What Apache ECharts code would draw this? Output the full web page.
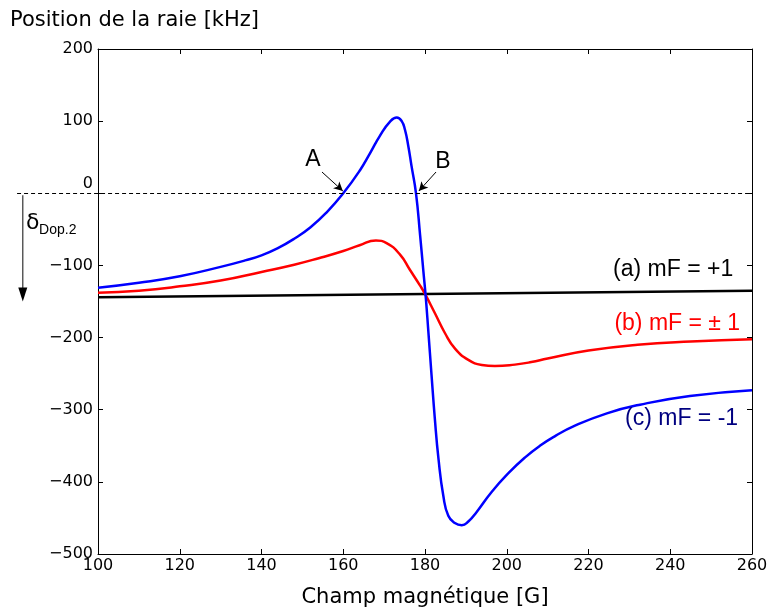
<!DOCTYPE html>
<html><head><meta charset="utf-8">
<script src="https://cdn.jsdelivr.net/npm/echarts@6/dist/echarts.min.js"></script>
<style>html,body{margin:0;padding:0;background:#fff}#c{width:772px;height:607px}</style>
</head><body><div id="c"></div>
<script>
// Field (G) and line position (kHz)
const fieldA = [100, 260];
const shiftA = [-144, -135];

const fieldB = [100, 110, 120, 130, 140, 148, 154, 160, 164, 168, 170.6, 173.9, 176.3, 178.8, 180, 182.4, 184.9, 187.3, 190.6, 193.9, 197.1, 202, 206, 210, 220, 232, 245, 260];
const shiftB = [-138, -135, -129, -121, -109, -99, -90, -80, -72, -65.5, -69, -85, -106, -128, -139.5, -166, -194, -215, -231, -238, -239.5, -237.5, -234, -229, -218, -210, -205.5, -202.4];

const fieldC = [100, 110, 120, 130, 136, 140, 144, 148, 152, 156, 160, 164.1, 166.5, 169, 171.4, 173.1, 174.3, 175.1, 175.9, 176.7, 177.8, 178.8, 179.6, 180.2, 180.8, 181.6, 182.4, 183.3, 184.5, 185.7, 187.3, 189, 190.6, 192.6, 196.3, 200.4, 204.5, 208.1, 212, 216.3, 224.5, 232.6, 244.8, 260];
const shiftC = [-131, -124, -115, -102, -93, -86, -76, -63, -47, -26, 0, 32, 55, 80, 99, 105, 100, 88, 66, 38, 0, -58, -108, -145, -190, -252, -312, -368, -420, -447, -457, -460, -455, -442, -414, -388, -366, -350, -336, -323, -305, -293, -281, -273];

const seriesNames = ['(a) mF = +1', '(b) mF = \u00b1 1', '(c) mF = -1'];
const seriesColors = ['#000000', '#ff0000', '#0000ff'];
const labelColors = ['#000000', '#ff0000', '#000080'];
// label anchor (right edge, vertical centre) in data coords
const labelAnchors = [[255.4, -106], [257.1, -181], [256.6, -313]];

const xMin = 100, xMax = 260, xStep = 20;
const yMin = -500, yMax = 200, yStep = 100;

const pointA = [152.6, 46], arrowA = [[154.8, 29.5], [159.9, 3.2]];
const pointB = [184.4, 43.4], arrowB = [[182.7, 29.5], [178.5, 3.2]];
const zeroLine = [[80.2, 0], [260, 0]];
const dopArrow = [[81.6, 0], [81.6, -150]];
const dopLabel = [82.4, -41];

const pairs = (xs, ys) => xs.map((x, i) => [x, ys[i]]);
const tickFont = {color: '#000', fontSize: 16, fontFamily: 'DejaVu Sans'};

const chart = echarts.init(document.getElementById('c'), null, {renderer: 'canvas'});

function mkLabel(i) {
  return {
    symbol: 'circle', symbolSize: 0,
    data: [{coord: labelAnchors[i]}],
    label: {show: true, position: 'left', distance: 0, formatter: seriesNames[i],
      color: labelColors[i], fontSize: 23, fontFamily: 'Liberation Sans'}
  };
}

const axisCommon = {
  type: 'value',
  axisLine: {show: true, onZero: false, lineStyle: {color: '#000', width: 1}},
  axisTick: {show: true, inside: true, length: 5, lineStyle: {color: '#000', width: 1}},
  splitLine: {show: false}
};

chart.setOption({
  animation: false,
  backgroundColor: '#fff',
  title: {text: 'Position de la raie [kHz]', left: 5, top: 5,
    textStyle: {fontSize: 21, fontWeight: 'normal', fontFamily: 'DejaVu Sans', color: '#000'}},
  grid: {left: 98, right: 20, top: 49, bottom: 53, containLabel: false, outerBoundsMode: 'none'},
  xAxis: [
    Object.assign({}, axisCommon, {min: xMin, max: xMax, interval: xStep, position: 'bottom',
      axisLabel: Object.assign({margin: 4}, tickFont),
      name: 'Champ magn\u00e9tique [G]', nameLocation: 'middle', nameGap: 33,
      nameTextStyle: {fontSize: 21, fontFamily: 'DejaVu Sans', color: '#000'}}),
    Object.assign({}, axisCommon, {min: xMin, max: xMax, interval: xStep, position: 'top',
      axisLabel: {show: false}})
  ],
  yAxis: [
    Object.assign({}, axisCommon, {min: yMin, max: yMax, interval: yStep, position: 'left',
      axisLabel: Object.assign({margin: 5,
        formatter: v => v === 0 ? '{z|0}' : String(v).replace('-', '\u2212'),
        rich: {z: Object.assign({padding: [0, 0, 18, 0]}, tickFont)}}, tickFont)}),
    Object.assign({}, axisCommon, {min: yMin, max: yMax, interval: yStep, position: 'right',
      axisLabel: {show: false}})
  ],
  series: [
    {type: 'line', name: seriesNames[0], data: pairs(fieldA, shiftA), showSymbol: false,
      lineStyle: {color: seriesColors[0], width: 2.5}, itemStyle: {color: seriesColors[0]},
      markPoint: mkLabel(0)},
    {type: 'line', name: seriesNames[1], data: pairs(fieldB, shiftB), showSymbol: false,
      smooth: 0.5,
      lineStyle: {color: seriesColors[1], width: 2.5}, itemStyle: {color: seriesColors[1]},
      markPoint: mkLabel(1)},
    {type: 'line', name: seriesNames[2], data: pairs(fieldC, shiftC), showSymbol: false,
      smooth: 0.5,
      lineStyle: {color: seriesColors[2], width: 2.5}, itemStyle: {color: seriesColors[2]},
      markPoint: {
        symbol: 'circle', symbolSize: 0,
        data: [mkLabel(2).data[0], {coord: pointA, name: 'A'}, {coord: pointB, name: 'B'}].map((d, k) =>
          k === 0 ? Object.assign({}, d, {label: mkLabel(2).label}) :
          Object.assign({}, d, {label: {show: true, position: 'inside', formatter: d.name,
            color: '#000', fontSize: 23, fontFamily: 'Liberation Sans'}}))
      },
      markLine: {
        silent: true, symbol: ['none', 'arrow'], symbolSize: [7, 9],
        lineStyle: {color: '#000', width: 1, type: 'solid'},
        label: {show: false},
        data: [
          [{coord: arrowA[0]}, {coord: arrowA[1]}],
          [{coord: arrowB[0]}, {coord: arrowB[1]}]
        ]
      }}
  ]
});

function px(p) { return chart.convertToPixel({xAxisIndex: 0, yAxisIndex: 0}, p); }
const z0 = px(zeroLine[0]), z1 = px(zeroLine[1]);
const d0 = px(dopArrow[0]), d1 = px(dopArrow[1]);
const dl = px(dopLabel);
chart.setOption({
  graphic: [
    {type: 'line', shape: {x1: z0[0], y1: Math.round(z0[1]) + 0.5, x2: z1[0], y2: Math.round(z1[1]) + 0.5},
      style: {stroke: '#000', lineWidth: 1, lineDash: [4, 3]}, z: 10},
    {type: 'line', shape: {x1: d0[0], y1: d0[1] + 2, x2: d1[0], y2: d1[1] - 10},
      style: {stroke: '#333', lineWidth: 1.2}},
    {type: 'polygon', shape: {points: [[d1[0] - 4.5, d1[1] - 14], [d1[0] + 4.5, d1[1] - 14], [d1[0], d1[1]]]},
      style: {fill: '#000'}},
    {type: 'text', x: dl[0], y: dl[1], style: {text: '\u03b4', fontSize: 22, fontFamily: 'DejaVu Sans',
      fill: '#000', align: 'left', verticalAlign: 'middle'}},
    {type: 'text', x: dl[0] + 13, y: dl[1] + 7, style: {text: 'Dop.2', fontSize: 14, fontFamily: 'Liberation Sans',
      fill: '#000', align: 'left', verticalAlign: 'middle'}}
  ]
});
</script></body></html>
